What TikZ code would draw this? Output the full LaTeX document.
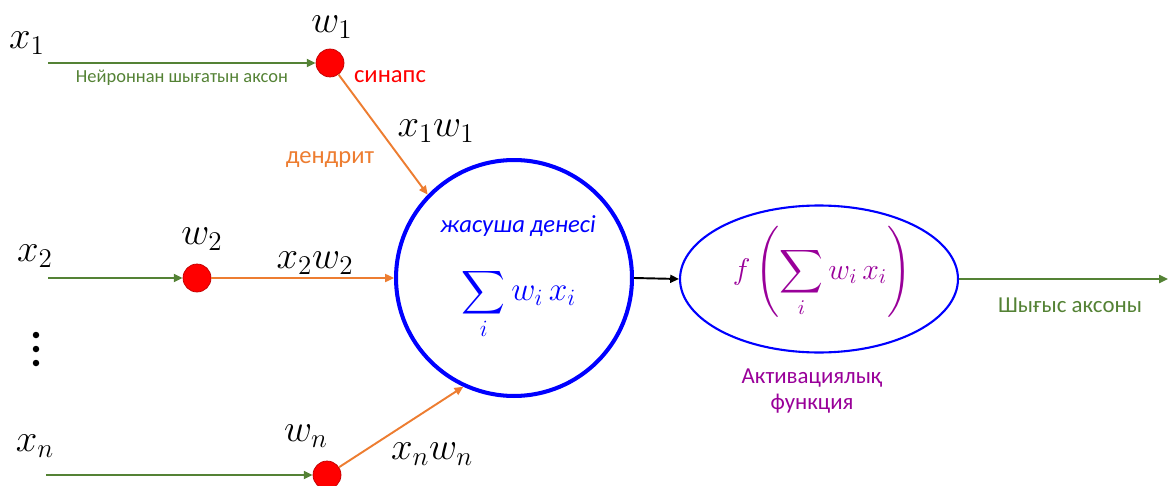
\documentclass[tikz,border=0pt]{standalone}
\usepackage{fix-cm}
\usepackage{amsmath}
\usepackage{fontspec}
\setmainfont{Carlito}
\usetikzlibrary{arrows.meta, shapes.geometric}
\definecolor{axongreen}{RGB}{84,130,53}
\definecolor{dendorange}{RGB}{237,125,49}
\definecolor{actpurple}{RGB}{153,0,153}

\begin{document}
\begin{tikzpicture}[x=0.02cm, y=-0.02cm,
        synapse/.style={circle, fill=red, draw=red!75!black, line width=0.4pt, minimum size=0.56cm, inner sep=0pt},
        axon/.style={axongreen, line width=1.1pt, -{Triangle[length=5pt,width=4.5pt]}},
        dendrite/.style={dendorange, line width=1.1pt, -{Triangle[length=5pt,width=4.5pt]}},
        mathlbl/.style={font=\fontsize{22}{26}\selectfont},
        sumlbl/.style={font=\fontsize{19}{23}\selectfont, inner sep=0pt},
        smalltxt/.style={font=\fontsize{13}{15}\selectfont}]
        \useasboundingbox (0,0) rectangle (1168,486);
        % cell body and activation
        \node[circle, draw=blue, line width=2.3pt, minimum size=4.72cm] (body) at (514,278) {};
        \node[ellipse, draw=blue, line width=1.2pt, minimum width=5.56cm, minimum height=2.94cm] (act) at (819,279) {};
        \node[blue, font=\fontsize{14}{16}\selectfont\itshape, inner sep=0pt] (bodylbl) at (518,226) {жасуша денесі};
        \node[blue, sumlbl] (sum) at (519,304) {$\displaystyle\sum_i w_i\,x_i$};
        \node[actpurple, sumlbl, font=\fontsize{17}{21}\selectfont] (fsum) at (822,272) {$\displaystyle f\left(\sum_i w_i\,x_i\right)$};
        \node[actpurple, smalltxt, align=center] (actlbl) at (812,391) {Активациялық\\функция};
        % inputs
        \node[mathlbl] (x1) at (27,43) {$x_1$};
        \node[mathlbl] (x2) at (35,256) {$x_2$};
        \node[mathlbl] (xn) at (35,446) {$x_n$};
        \coordinate (in1) at (48,63);
        \coordinate (in2) at (48,278);
        \coordinate (inn) at (46,475);
        \foreach \y in {335,349,363} {
            \fill (36,\y) circle (0.065cm);
        }
        % synapses
        \node[synapse] (w1) at (330,63) {};
        \node[synapse] (w2) at (197,278) {};
        \node[synapse] (wn) at (327,475) {};
        \node[mathlbl] (w1lbl) at (332,27) {$w_1$};
        \node[mathlbl] (w2lbl) at (202,239) {$w_2$};
        \node[mathlbl] (wnlbl) at (306,436) {$w_n$};
        \node[red, font=\fontsize{14}{16}\selectfont] (synlbl) at (390,77) {синапс};
        \node[axongreen, font=\fontsize{10.5}{12}\selectfont] (axonlbl) at (182,78) {Нейроннан шығатын аксон};
        \draw[axon] (in1) -- (w1);
        \draw[axon] (in2) -- (w2);
        \draw[axon] (inn) -- (wn);
        % dendrites
        \draw[dendrite] (w1) -- (body.136);
        \draw[dendrite] (w2) -- (body.west);
        \draw[dendrite] (wn) -- (body.245);
        \node[mathlbl] (p1) at (436,131) {$x_1w_1$};
        \node[mathlbl] (p2) at (315,263) {$x_2w_2$};
        \node[mathlbl] (pn) at (432,454) {$x_nw_n$};
        \node[dendorange, font=\fontsize{14}{16}\selectfont] (dendlbl) at (330,160) {дендрит};
        % output
        \coordinate (out) at (1168,279);
        \draw[line width=1.1pt, -{Triangle[length=5pt,width=4.5pt]}] (body.east) -- (act.west);
        \draw[axon] (act.east) -- (out);
        \node[axongreen, smalltxt] (outlbl) at (1070,305) {Шығыс аксоны};
    \end{tikzpicture}
\end{document}
